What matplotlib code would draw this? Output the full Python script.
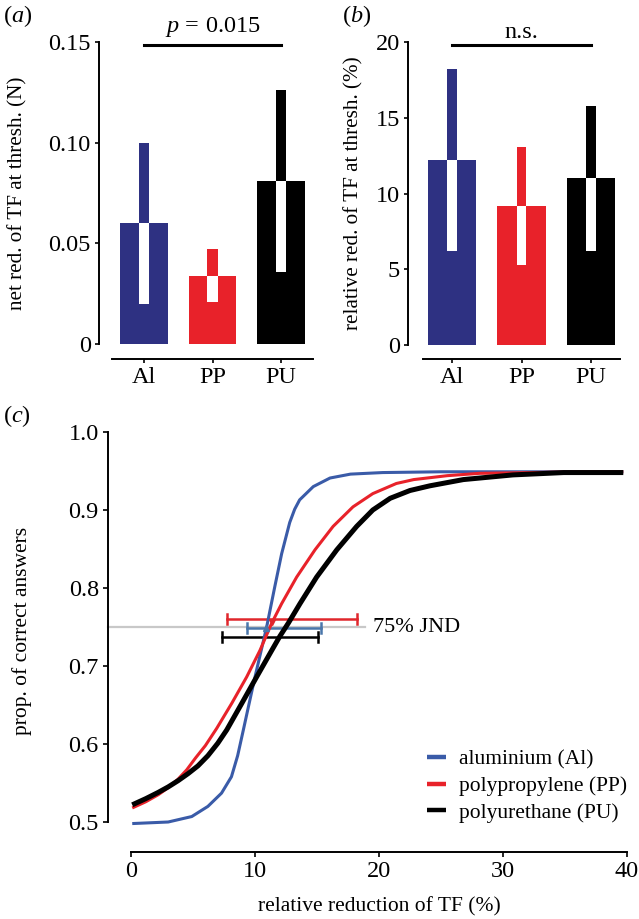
import numpy as np
import matplotlib
matplotlib.use('Agg')
import matplotlib.pyplot as plt

plt.rcParams['font.family'] = ['Liberation Serif', 'DejaVu Serif']
plt.rcParams['mathtext.fontset'] = 'custom'
plt.rcParams['mathtext.rm'] = 'Liberation Serif'
plt.rcParams['mathtext.it'] = 'Liberation Serif:italic'

# ---- data ----
materials = ['Al', 'PP', 'PU']
bar_colors = ['#2e3182', '#e8222a', '#000000']

net_mean = [0.060, 0.034, 0.081]
net_err = [0.040, 0.013, 0.045]

rel_mean = [12.2, 9.2, 11.0]
rel_err = [6.0, 3.9, 4.8]

# psychometric curves, points
al_x = [0.1, 3.0, 4.9, 6.2, 7.3, 8.1, 8.6, 9.06, 9.5, 10.0, 10.5, 10.94, 11.6, 12.15, 12.8,
        13.2, 13.6, 14.7, 16.05, 17.7, 20.3, 25.0, 30.0, 35.0, 39.7]
al_y = [0.498, 0.500, 0.507, 0.520, 0.537, 0.558, 0.585, 0.618, 0.650, 0.686, 0.720, 0.750, 0.802, 0.844, 0.884,
        0.901, 0.913, 0.930, 0.941, 0.946, 0.948, 0.949, 0.949, 0.949, 0.949]

pp_x = [0.1, 1.2, 2.2, 3.0, 3.8, 4.5, 5.2, 6.0, 6.91, 8.12, 9.33, 10.4, 11.35, 12.15, 13.36, 14.84,
        16.3, 17.9, 19.5, 21.4, 22.8, 25.5, 28.1, 32.2, 36.0, 39.7]
pp_y = [0.518, 0.526, 0.535, 0.544, 0.555, 0.567, 0.582, 0.598, 0.620, 0.652, 0.686, 0.720, 0.755, 0.780, 0.814, 0.849,
        0.879, 0.904, 0.921, 0.934, 0.939, 0.944, 0.947, 0.948, 0.949, 0.949]

pu_x = [0.1, 1.2, 2.2, 3.0, 3.8, 4.6, 5.4, 6.2, 7.0, 7.72, 8.93, 10.13, 11.35, 12.0, 12.69, 13.63, 14.97,
        16.6, 18.2, 19.5, 20.9, 22.5, 24.1, 26.8, 30.8, 34.9, 39.7]
pu_y = [0.522, 0.530, 0.538, 0.545, 0.553, 0.562, 0.572, 0.585, 0.601, 0.618, 0.652, 0.686, 0.720, 0.738, 0.755, 0.780, 0.814,
        0.849, 0.879, 0.900, 0.915, 0.925, 0.931, 0.939, 0.945, 0.948, 0.948]

curve_labels = ['aluminium (Al)', 'polypropylene (PP)', 'polyurethane (PU)']
curve_colors = ['#3a5ba8', '#e8222a', '#000000']

# JND error bars (Al, PP, PU)
jnd_y = [0.7483, 0.7598, 0.7368]
jnd_lo = [9.33, 7.77, 7.31]
jnd_hi = [15.32, 18.25, 15.1]
jnd_mid = [10.86, 11.35, 12.7]
jnd_colors = ['#4a76aa', '#e0262c', '#000000']

W, H = 639, 919
PT = 0.72  # points per pixel at dpi 100
fig = plt.figure(figsize=(W / 100, H / 100), dpi=100)


def px_axes(left, top, right, bottom):
    return fig.add_axes([left / W, 1 - bottom / H, (right - left) / W, (bottom - top) / H])


def style_axes(ax, left_off, bottom_off):
    for s in ['top', 'right']:
        ax.spines[s].set_visible(False)
    ax.spines['left'].set_position(('outward', left_off * PT))
    ax.spines['bottom'].set_position(('outward', bottom_off * PT))
    for s in ['left', 'bottom']:
        ax.spines[s].set_linewidth(1.4)
    ax.tick_params(labelsize=17.5, length=4 * PT, width=1.2, pad=3)


def bar_panel(ax, means, errs, ylim, ticks, ticklabels, ylabel, ebw):
    x = np.arange(len(means))
    ax.bar(x, means, width=0.70, color=bar_colors)
    for i in x:
        ax.bar(i, errs[i], bottom=means[i], width=ebw, color=bar_colors[i])
        ax.bar(i, errs[i], bottom=means[i] - errs[i], width=ebw, color='white')
    ax.set_ylim(*ylim)
    ax.set_yticks(ticks)
    ax.set_yticklabels(ticklabels)
    ax.set_xticks(x)
    ax.set_xticklabels(materials)
    ax.set_ylabel(ylabel, fontsize=15.2)


# panel (a)
ax_a = px_axes(112, 42, 313, 344)
ax_a.set_xlim(-0.467, 2.467)
bar_panel(ax_a, net_mean, net_err, (0, 0.15), [0, 0.05, 0.10, 0.15],
          ['0', '0.05', '0.10', '0.15'], 'net red. of TF at thresh. (N)', 0.146)
style_axes(ax_a, 13, 15)
ax_a.yaxis.set_label_coords(-0.418, 0.5)
ax_a.plot([0, 2], [0.1485, 0.1485], color='black', lw=2.2, clip_on=False)
ax_a.text(1, 0.155, '$p\\,=\\,$0.015', ha='center', va='baseline', fontsize=17.5)
fig.text(3 / W, 1 - 16 / H, '($a$)', fontsize=17.5, va='center', ha='left')

# panel (b)
ax_b = px_axes(423, 42, 620, 345)
ax_b.set_xlim(-0.417, 2.417)
bar_panel(ax_b, rel_mean, rel_err, (0, 20), [0, 5, 10, 15, 20],
          ['0', '5', '10', '15', '20'], 'relative red. of TF at thresh. (%)', 0.13)
style_axes(ax_b, 15, 14)
ax_b.yaxis.set_label_coords(-0.30, 0.5)
ax_b.plot([0, 2], [19.8, 19.8], color='black', lw=2.2, clip_on=False)
ax_b.text(1, 20.26, 'n.s.', ha='center', va='baseline', fontsize=17.5)
fig.text(342 / W, 1 - 16 / H, '($b$)', fontsize=17.5, va='center', ha='left')

# panel (c)
ax_c = px_axes(131, 432, 627, 822)
ax_c.set_xlim(0, 40)
ax_c.set_ylim(0.5, 1.0)
ax_c.plot([-1.85, 18.9], [0.75, 0.75], color='#c8c8c8', lw=1.6, clip_on=False, zorder=1)
ax_c.text(19.5, 0.75, '75% JND', ha='left', va='center', fontsize=16)

for i in range(3):
    c = jnd_colors[i]
    ax_c.plot([jnd_lo[i], jnd_hi[i]], [jnd_y[i], jnd_y[i]], color=c, lw=1.8, zorder=3)
    for xe in (jnd_lo[i], jnd_hi[i]):
        ax_c.plot([xe, xe], [jnd_y[i] - 0.0065, jnd_y[i] + 0.0065], color=c, lw=1.8, zorder=3)

curve_style = dict(clip_on=False, solid_joinstyle='round', solid_capstyle='butt')
ax_c.plot(al_x, al_y, color=curve_colors[0], lw=2.2, zorder=4, label=curve_labels[0], **curve_style)
ax_c.plot(pp_x, pp_y, color=curve_colors[1], lw=2.2, zorder=4, label=curve_labels[1], **curve_style)
ax_c.plot(pu_x, pu_y, color=curve_colors[2], lw=3.6, zorder=5, label=curve_labels[2], **curve_style)
ax_c.plot(jnd_mid[0], jnd_y[0], marker='^', ms=4.5, color=jnd_colors[0], zorder=6)
ax_c.plot(jnd_mid[1], jnd_y[1] - 0.003, marker='v', ms=4.5, color=jnd_colors[1], zorder=6)

ax_c.set_xticks([0, 10, 20, 30, 40])
ax_c.set_yticks([0.5, 0.6, 0.7, 0.8, 0.9, 1.0])
ax_c.set_yticklabels(['0.5', '0.6', '0.7', '0.8', '0.9', '1.0'])
style_axes(ax_c, 23, 30)
ax_c.tick_params(length=5 * PT)
ax_c.set_xlabel('relative reduction of TF (%)', fontsize=15.5)
ax_c.set_ylabel('prop. of correct answers', fontsize=15.5)
ax_c.xaxis.set_label_coords(0.5, -0.192)
ax_c.yaxis.set_label_coords(-0.2, 0.49)
leg = ax_c.legend(loc='center left', bbox_to_anchor=(427 / W, 1 - 786 / H),
                  bbox_transform=fig.transFigure, frameon=False, fontsize=15.5,
                  handlelength=0.9, handletextpad=0.6, labelspacing=0.32,
                  borderaxespad=0, borderpad=0)
for h in leg.legend_handles:
    h.set_linewidth(3.2)
fig.text(3 / W, 1 - 416 / H, '($c$)', fontsize=17.5, va='center', ha='left')

fig.savefig('out.png', dpi=100)
